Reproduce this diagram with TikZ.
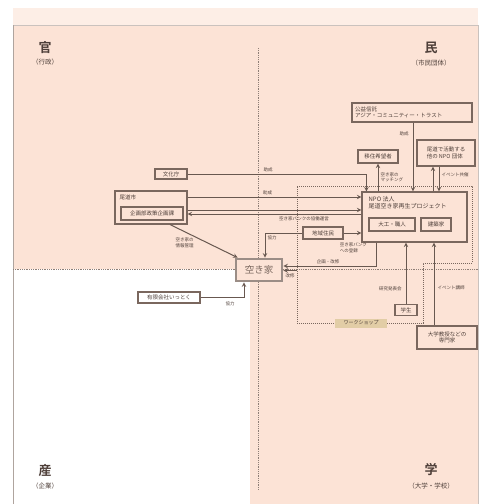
\documentclass[tikz,border=0pt]{standalone}
\usepackage{fontspec}
\setmainfont{Noto Sans CJK JP}[BoldFont=* Bold]
\definecolor{peach}{HTML}{FCE3D6}
\definecolor{band}{HTML}{FDEEE6}
\definecolor{ink}{HTML}{4E3F39}
\definecolor{edge}{HTML}{7A675E}
\definecolor{tanfill}{HTML}{E2CDA6}
\begin{document}
\begin{tikzpicture}[x=1pt,y=-1pt,
    box/.style={draw=edge,line width=1.1pt,text=ink,font=\fontsize{5.5}{6.5}\selectfont,inner sep=1pt},
    lbl/.style={text=ink,font=\fontsize{4.5}{5.5}\selectfont,inner sep=1pt},
    link/.style={draw=edge!85!black,line width=1pt,-stealth},
    zone/.style={draw=edge,line width=1pt,densely dotted},
    divider/.style={draw=edge!85,line width=0.8pt,densely dotted},
    head/.style={text=ink,font=\fontsize{13}{13}\selectfont\bfseries,inner sep=0pt},
    subhead/.style={text=ink,font=\fontsize{6.5}{7}\selectfont,inner sep=0pt}]
    \useasboundingbox (0,0) rectangle (485,504);
    % quadrants
    \fill[band](13,8) rectangle (478,25);
    \fill[peach](13,25) rectangle (478,269);
    \fill[peach](250,269) rectangle (478,504);
    \draw[edge!40,line width=0.6pt](13,25)--(478,25);
    \draw[edge!60,line width=0.6pt](13,25)--(13,504);
    \draw[edge!40,line width=0.6pt](478,25)--(478,504);
    \draw[divider](258,48)--(258,490);
    \draw[divider](13,269)--(478,269);
    \node[head] (kan) at (45,48) {官};
    \node[subhead] (kansub) at (45,62) {（行政）};
    \node[head] (min) at (431,48) {民};
    \node[subhead] (minsub) at (431,63) {（市民団体）};
    \node[head] (san) at (45,471) {産};
    \node[subhead] (sansub) at (45,486) {（企業）};
    \node[head] (gaku) at (431,470) {学};
    \node[subhead] (gakusub) at (431,486) {（大学・学校）};
    % workshop zone
    \draw[zone](297,186)--(472,186)--(472,263)--(423,263)--(423,323)--(297,323)--cycle;
    \node[box,draw=none,fill=tanfill,font=\fontsize{5}{6}\selectfont,minimum width=52pt,minimum height=9pt] (ws) at (361,323) {ワークショップ};
    % actors
    \node[box,minimum width=120pt,minimum height=19pt,align=left,text width=114pt] (acot) at (412,112.5) {公益信託\\アジア・コミュニティー・トラスト};
    \node[box,minimum width=40pt,minimum height=13pt] (iju) at (378,156.5) {移住希望者};
    \node[box,minimum width=58pt,minimum height=26pt,align=left] (tanpo) at (446,153) {尾道で活動する\\他の NPO 団体};
    \node[box,minimum width=32pt,minimum height=10pt] (bunka) at (171,174) {文化庁};
    \node[box,minimum width=72pt,minimum height=33pt] (city) at (151,207.5) {};
    \node[lbl,font=\fontsize{5.5}{6.5}\selectfont,anchor=north west] (cityname) at ([xshift=4pt,yshift=-3pt]city.north west) {尾道市};
    \node[box,minimum width=62pt,minimum height=13pt] (kikaku) at (152,213.5) {企画部政策企画課};
    \node[box,fill=peach,minimum width=105pt,minimum height=50pt] (npo) at (414.5,217) {};
    \node[lbl,font=\fontsize{6}{7}\selectfont,align=left,anchor=north west] (nponame) at ([xshift=6pt,yshift=-4pt]npo.north west) {NPO 法人\\尾道空き家再生プロジェクト};
    \node[box,minimum width=46pt,minimum height=13pt] (daiku) at (392,224.5) {大工・職人};
    \node[box,minimum width=30pt,minimum height=13pt] (kenchiku) at (436,224.5) {建築家};
    \node[box,fill=peach,minimum width=40pt,minimum height=12pt] (jumin) at (323,233) {地域住民};
    \node[box,draw=edge!75,line width=2.8pt,fill=peach,text=edge,font=\fontsize{9.5}{10}\selectfont,minimum width=46pt,minimum height=22pt] (akiya) at (259,270) {空き家};
    \node[box,fill=white,line width=1.3pt,minimum width=62pt,minimum height=11pt] (ittoku) at (169,297.5) {有限会社いっとく};
    \node[box,minimum width=22pt,minimum height=11pt] (gakusei) at (406,310) {学生};
    \node[box,minimum width=60pt,minimum height=23pt,align=center] (senmon) at (447,337.5) {大学教授などの\\専門家};
    % connectors
    \draw[link](bunka.east) -| ([xshift=5pt]npo.north west) node[lbl,pos=0.225,above=1pt]{助成};
    \draw[link]([yshift=10.5pt]city.east) coordinate (c1) -- (c1 -| npo.west) node[lbl,pos=0.46,above=1pt]{助成};
    \draw[link]([yshift=-2.5pt]city.east) coordinate (c2) -- (c2 -| npo.west);
    \draw[link]([yshift=3pt]npo.west) coordinate (n2) -- (n2 -| city.east) node[lbl,pos=0.33,below=1.5pt]{空き家バンクの協働運営};
    \draw[link]([xshift=19pt]city.south) -- ([xshift=3pt]akiya.north west) node[lbl,pos=0.55,left=12pt,align=left]{空き家の\\情報管理};
    \draw[link](jumin.west) -| ([xshift=6pt]akiya.north) node[lbl,pos=0.6,right=1pt]{協力};
    \draw[link](jumin.east) -- (jumin.east -| npo.west);
    \node[lbl,align=left,anchor=north west] (bank) at ([xshift=-5pt,yshift=-2pt]jumin.south east) {空き家バンク\\への登録};
    \draw[link]([xshift=15pt]npo.south west) |- ([yshift=4pt]akiya.east) node[lbl,pos=0.76,above=1pt]{企画・改修};
    \coordinate (wsedge) at (297,270.5);
    \draw[link](wsedge) -- (wsedge -| akiya.east) node[lbl,pos=0.5,below=2pt]{改修};
    \draw[link](ittoku.east) -| ([xshift=-15pt]akiya.south) node[lbl,pos=0.34,below=3pt]{協力};
    \draw[link]([xshift=1pt]acot.south) coordinate (a1) -- (a1 |- npo.north) node[lbl,pos=0.16,left=3pt]{助成};
    \draw[link](iju.south |- npo.north) -- (iju.south) node[lbl,pos=0.5,right=1pt,align=left]{空き家の\\マッチング};
    \coordinate (t1) at ([xshift=-13pt]tanpo.south);
    \coordinate (t2) at ([xshift=-7pt]tanpo.south);
    \draw[link](t1 |- npo.north) -- (t1);
    \draw[link](t2) -- (t2 |- npo.north) node[lbl,pos=0.35,right=1pt]{イベント共催};
    \draw[link](gakusei.north) -- (gakusei.north |- npo.south) node[lbl,pos=0.25,left=3pt]{研究発表会};
    \coordinate (s1) at ([xshift=-13pt]senmon.north);
    \draw[link](s1) -- (s1 |- npo.south) node[lbl,pos=0.46,right=2pt]{イベント講師};
\end{tikzpicture}
\end{document}
